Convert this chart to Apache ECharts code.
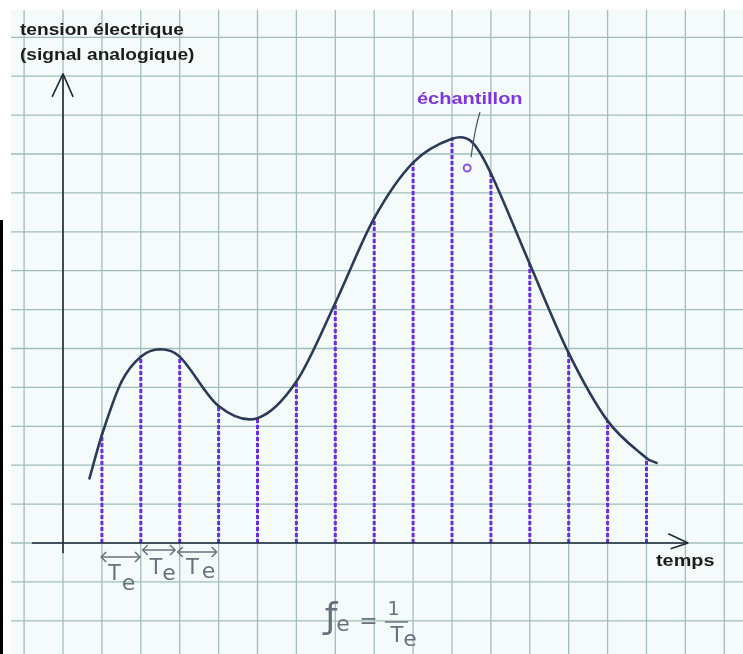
<!DOCTYPE html>
<html>
<head>
<meta charset="utf-8">
<script src="https://cdn.jsdelivr.net/npm/echarts@6/dist/echarts.min.js"></script>
<style>
  html, body { margin: 0; padding: 0; background: #fff; }
  #chart { width: 743px; height: 654px; }
</style>
</head>
<body>
<div id="chart"></div>
<script>
// grid units: one square = one sampling period Te on x, one unit of voltage on y

// squares of the graph paper
const paperCols = [-1, 0, 1, 2, 3, 4, 5, 6, 7, 8, 9, 10, 11, 12, 13, 14, 15, 16, 17];
const paperRows = [-2, -1, 0, 1, 2, 3, 4, 5, 6, 7, 8, 9, 10, 11, 12, 13];

// sampled values (dashed purple lines), one per Te
const sampleTimes = [1, 2, 3, 4, 5, 6, 7, 8, 9, 10, 11, 12, 13, 14, 15];
const sampleValues = [2.78, 4.79, 4.79, 3.52, 3.21, 4.15, 6.17, 8.35, 9.78, 10.39, 9.5, 7.17, 4.88, 3.14, 2.18];

// analog signal: its ends, the samples and a few extra points read on the curve
const curveTimes = [0.68, 1, 1.5, 2, 2.5, 3, 4, 5, 6, 7, 8, 9, 10, 10.5, 11, 12, 13, 14, 15, 15.26];
const curveValues = [1.66, 2.78, 4.14, 4.79, 4.98, 4.79, 3.52, 3.21, 4.15, 6.17, 8.35, 9.78, 10.39, 10.32, 9.5, 7.17, 4.88, 3.14, 2.18, 2.06];

// hand drawn axes
const axisTime = [[-0.8, 0], [16.07, 0]];
const axisTimeHead = [[15.56, 0.24], [16.07, 0], [15.62, -0.15]];
const axisVolt = [[0, -0.26], [0, 12.06]];
const axisVoltHead = [[-0.28, 11.47], [0, 12.06], [0.26, 11.47]];

// "échantillon" marker and its leader
const markerPoint = [[10.39, 9.64]];
const markerLeader = [[10.49, 9.92], [10.6, 10.6], [10.72, 11.08]];

// Te double arrows: [from, to, level]
const periodArrows = [[0.98, 1.98, -0.36], [2.05, 2.88, -0.18], [2.95, 3.95, -0.23]];

const ink = '#2b3b57';
const purple = '#6a2ee0';
const pencil = '#67717e';
const rule = '#a0bdb8';

function axisLine(data) {
  return {
    type: 'line', data: data, showSymbol: false, silent: true, z: 3,
    lineStyle: { color: '#1e2a38', width: 1.6 }
  };
}

function paperLines(values, vertical) {
  return {
    type: 'custom',
    silent: true,
    z: 1,
    data: values.map(v => vertical ? [v, 0] : [0, v]),
    renderItem: function (params, api) {
      const cs = params.coordSys;
      const p = api.coord([api.value(0), api.value(1)]);
      const shape = vertical
        ? { x1: p[0], y1: cs.y, x2: p[0], y2: cs.y + cs.height }
        : { x1: cs.x, y1: p[1], x2: cs.x + cs.width, y2: p[1] };
      return { type: 'line', shape: shape, style: { stroke: rule, lineWidth: 1.3 } };
    }
  };
}

// slope of the curve at point i (finite difference of its neighbours)
function curveSlope(i) {
  const a = Math.max(i - 1, 0);
  const b = Math.min(i + 1, curveTimes.length - 1);
  return (curveValues[b] - curveValues[a]) / (curveTimes[b] - curveTimes[a]);
}

function pencilText(text, x, y, size) {
  return {
    type: 'text', z: 10,
    style: { text: text, x: x, y: y, align: 'center', verticalAlign: 'middle', font: size + 'px "DejaVu Sans", sans-serif', fill: pencil }
  };
}

const chart = echarts.init(document.getElementById('chart'));
chart.setOption({
  animation: false,
  backgroundColor: '#ffffff',
  grid: { left: 11, right: 0, top: 10, bottom: 0, show: true, backgroundColor: '#f5fbfb', borderWidth: 0 },
  xAxis: {
    type: 'value', min: -1.337, max: 17.481,
    axisLine: { show: false }, axisTick: { show: false }, axisLabel: { show: false }, splitLine: { show: false }
  },
  yAxis: {
    type: 'value', min: -2.853, max: 13.702,
    axisLine: { show: false }, axisTick: { show: false }, axisLabel: { show: false }, splitLine: { show: false }
  },
  series: [
    paperLines(paperCols, true),
    paperLines(paperRows, false),
    {
      type: 'custom',
      silent: true,
      z: 2,
      data: sampleTimes.map((t, i) => [t, sampleValues[i]]),
      renderItem: function (params, api) {
        const top = api.coord([api.value(0), api.value(1)]);
        const base = api.coord([api.value(0), 0]);
        return {
          type: 'line',
          shape: { x1: base[0], y1: base[1], x2: top[0], y2: top[1] },
          style: { stroke: purple, lineWidth: 3, lineDash: [4, 2] }
        };
      }
    },
    axisLine(axisTime),
    axisLine(axisTimeHead),
    axisLine(axisVolt),
    axisLine(axisVoltHead),
    {
      // analog curve: one cubic segment between consecutive read points
      type: 'custom',
      silent: true,
      z: 4,
      data: curveTimes.map((t, i) => [t, curveValues[i]]),
      renderItem: function (params, api) {
        const i = params.dataIndex;
        if (i >= curveTimes.length - 1) return null;
        const x0 = curveTimes[i], x1 = curveTimes[i + 1];
        const y0 = curveValues[i], y1 = curveValues[i + 1];
        const h = (x1 - x0) / 3;
        const p0 = api.coord([x0, y0]);
        const c0 = api.coord([x0 + h, y0 + curveSlope(i) * h]);
        const c1 = api.coord([x1 - h, y1 - curveSlope(i + 1) * h]);
        const p1 = api.coord([x1, y1]);
        return {
          type: 'bezierCurve',
          shape: { x1: p0[0], y1: p0[1], cpx1: c0[0], cpy1: c0[1], cpx2: c1[0], cpy2: c1[1], x2: p1[0], y2: p1[1] },
          style: { stroke: ink, lineWidth: 2.6, fill: null, lineCap: 'round' }
        };
      }
    },
    {
      type: 'line', data: markerLeader, smooth: true, showSymbol: false, silent: true, z: 4,
      lineStyle: { color: '#4a4f5a', width: 1.2 }
    },
    {
      type: 'scatter', data: markerPoint, symbol: 'circle', symbolSize: 7, silent: true, z: 5,
      itemStyle: { color: '#f5fbfb', borderColor: purple, borderWidth: 2 }
    },
    {
      type: 'custom',
      silent: true,
      z: 4,
      data: periodArrows,
      renderItem: function (params, api) {
        const a = api.coord([api.value(0), api.value(2)]);
        const b = api.coord([api.value(1), api.value(2)]);
        const h = 5;
        const st = { stroke: pencil, lineWidth: 1.5, fill: null };
        return {
          type: 'group',
          children: [
            { type: 'line', shape: { x1: a[0], y1: a[1], x2: b[0], y2: b[1] }, style: st },
            { type: 'polyline', shape: { points: [[a[0] + h, a[1] - h], [a[0], a[1]], [a[0] + h, a[1] + h]] }, style: st },
            { type: 'polyline', shape: { points: [[b[0] - h, b[1] - h], [b[0], b[1]], [b[0] - h, b[1] + h]] }, style: st }
          ]
        };
      }
    }
  ],
  graphic: [
    { type: 'rect', z: 1, shape: { x: 0, y: 220, width: 3, height: 434 }, style: { fill: '#000000' } },
    {
      type: 'text', z: 10, x: 20, y: 18, scaleX: 1.16,
      style: {
        text: 'tension électrique\n(signal analogique)',
        font: 'bold 16.5px "Liberation Sans", Arial, sans-serif',
        lineHeight: 25, fill: '#1c1c1c'
      }
    },
    {
      type: 'text', z: 10, x: 417, y: 92, scaleX: 1.25,
      style: { text: 'échantillon', font: 'bold 16px "Liberation Sans", Arial, sans-serif', fill: '#7d35e2' }
    },
    {
      type: 'text', z: 10, x: 656, y: 554, scaleX: 1.24,
      style: { text: 'temps', font: 'bold 16px "Liberation Sans", Arial, sans-serif', fill: '#1c1c1c' }
    },
    pencilText('T', 114.5, 575, 21), pencilText('e', 128.5, 584, 22),
    pencilText('T', 156, 568.5, 21), pencilText('e', 169, 574, 22),
    pencilText('T', 192.5, 569, 21), pencilText('e', 208.5, 572, 22),
    pencilText('ƒ', 331, 619, 36), pencilText('e', 343, 625, 22),
    pencilText('=', 368.5, 622, 22),
    pencilText('1', 393.5, 610, 19),
    { type: 'line', z: 10, shape: { x1: 385, y1: 622, x2: 408, y2: 622 }, style: { stroke: pencil, lineWidth: 1.5 } },
    pencilText('T', 397, 637, 21), pencilText('e', 410, 640, 22)
  ]
});
</script>
</body>
</html>
